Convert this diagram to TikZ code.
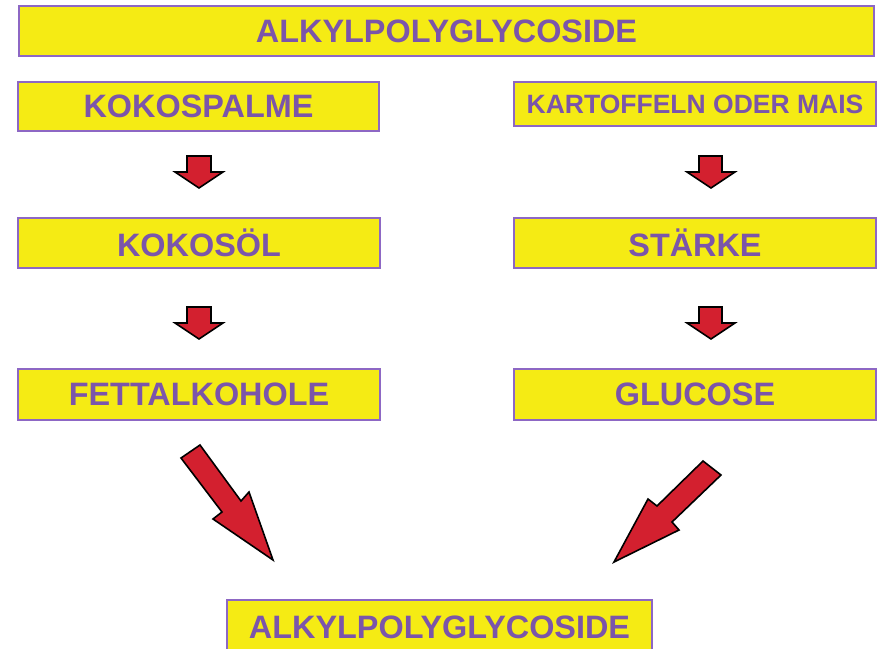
\documentclass[tikz,border=0pt]{standalone}
\usepackage{fontspec}
\setmainfont{Liberation Sans}
\definecolor{boxyellow}{HTML}{F5EB14}
\definecolor{boxline}{HTML}{8D67C4}
\definecolor{txtpurple}{HTML}{7B55AA}
\definecolor{arrred}{HTML}{D3202F}
\tikzset{
  box/.style={draw=boxline, line width=1.1pt, fill=boxyellow, inner sep=0pt,
    text=txtpurple, font=\fontsize{32.4}{36}\selectfont\bfseries, anchor=center},
  smallbox/.style={box, font=\fontsize{26.5}{30}\selectfont\bfseries},
  blockarrow/.style={fill=arrred, draw=black, line width=1.6pt, line join=miter}
}
\begin{document}
\begin{tikzpicture}[x=1pt,y=-1pt]
\useasboundingbox (0,0) rectangle (877,648);
% boxes
\node[box, minimum width=855, minimum height=50] (top) at (446.5,31) {ALKYLPOLYGLYCOSIDE};
\node[box, minimum width=361, minimum height=49] (palme) at (198.5,106.5) {KOKOSPALME};
\node[smallbox, minimum width=362, minimum height=44] (kart) at (695,104) {KARTOFFELN ODER MAIS};
\node[box, minimum width=362, minimum height=50] (oel) at (199,243) {KOKOSÖL};
\node[box, minimum width=362, minimum height=50] (staerke) at (695,243) {STÄRKE};
\node[box, minimum width=362, minimum height=51] (fett) at (199,394.5) {FETTALKOHOLE};
\node[box, minimum width=362, minimum height=51] (gluc) at (695,394.5) {GLUCOSE};
\node[box, minimum width=425, minimum height=54] (bottom) at (439.5,627) {ALKYLPOLYGLYCOSIDE};
% small down arrows
\draw[blockarrow] (187,156) -- (211,156) -- (211,172) -- (223,172) -- (199,188) -- (175,172) -- (187,172) -- cycle;
\draw[blockarrow] (187,307) -- (211,307) -- (211,323) -- (223,323) -- (199,339) -- (175,323) -- (187,323) -- cycle;
\draw[blockarrow] (699,156) -- (722,156) -- (722,172) -- (735,172) -- (711,188) -- (687,172) -- (699,172) -- cycle;
\draw[blockarrow] (699,307) -- (722,307) -- (722,323) -- (735,323) -- (711,339) -- (687,323) -- (699,323) -- cycle;
% big diagonal arrows
\draw[blockarrow] (181,458) -- (200,445) -- (241,501) -- (249,492) -- (273,560) -- (213,519) -- (222,512) -- cycle;
\draw[blockarrow] (703,461) -- (721,475) -- (672,522) -- (679,530) -- (614,562) -- (648,499) -- (657,506) -- cycle;
\end{tikzpicture}
\end{document}
